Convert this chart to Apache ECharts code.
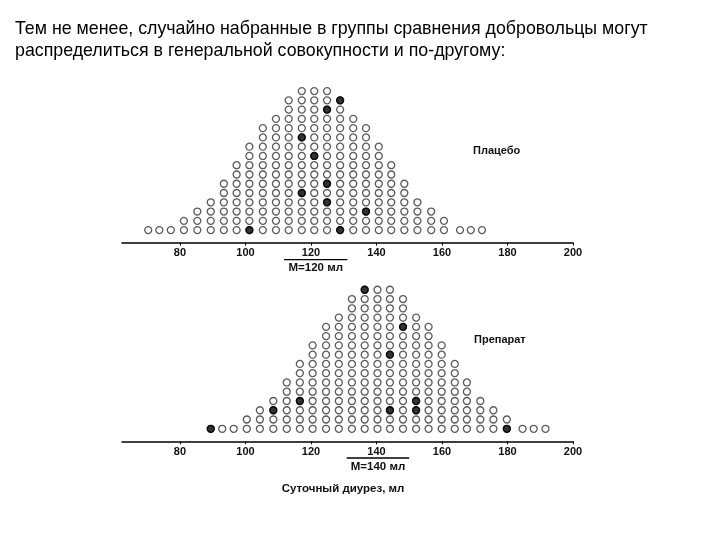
<!DOCTYPE html>
<html>
<head>
<meta charset="utf-8">
<script src="https://cdn.jsdelivr.net/npm/echarts@6/dist/echarts.min.js"></script>
<style>
html,body{margin:0;padding:0;background:#fff;}
#c{width:720px;height:540px;}
</style>
</head>
<body>
<div id="c"></div>
<script>
// ---- data ----
const titleLines = [
  "Тем не менее, случайно набранные в группы сравнения добровольцы могут",
  "распределиться в генеральной совокупности и по-другому:"
];
const tickValues = [80, 100, 120, 140, 160, 180, 200];

// Placebo: column positions (ml) and number of volunteers stacked in each column
const placeboX = [70.3, 73.7, 77.2, 81.2, 85.3, 89.4, 93.4, 97.3, 101.2, 105.3, 109.3, 113.2, 117.2, 121.0,
                  124.9, 128.9, 132.9, 136.8, 140.7, 144.5, 148.5, 152.5, 156.7, 160.6, 165.5, 168.8, 172.2];
const placeboCounts = [1, 1, 1, 2, 3, 4, 6, 8, 10, 12, 13, 15, 16, 16, 16, 15, 13, 12, 10, 8, 6, 4, 3, 2, 1, 1, 1];
// sampled volunteers: [column position, row]
const placeboSample = [[101.2, 0], [117.2, 4], [117.2, 10], [121.0, 8], [124.9, 3], [124.9, 5], [124.9, 13],
                       [128.9, 0], [128.9, 14], [136.8, 2]];
const placeboMeanLabel = "M=120 мл";
const placeboMeanBar = [111.8, 131.1];
const placeboName = "Плацебо";

// Drug
const drugX = [89.4, 92.9, 96.4, 100.4, 104.4, 108.5, 112.6, 116.6, 120.5, 124.6, 128.5, 132.5, 136.4, 140.3,
               144.1, 148.1, 152.1, 155.9, 159.9, 163.9, 167.6, 171.7, 175.7, 179.8, 184.6, 188.0, 191.6];
const drugCounts = [1, 1, 1, 2, 3, 4, 6, 8, 10, 12, 13, 15, 16, 16, 16, 15, 13, 12, 10, 8, 6, 4, 3, 2, 1, 1, 1];
const drugSample = [[89.4, 0], [108.5, 2], [116.6, 3], [136.4, 15], [144.1, 2], [144.1, 8], [148.1, 11],
                    [152.1, 2], [152.1, 3], [179.8, 0]];
const drugMeanLabel = "M=140 мл";
const drugMeanBar = [130.9, 150.0];
const drugName = "Препарат";

const xCaption = "Суточный диурез, мл";

// ---- build ----
function buildPoints(xs, counts) {
  const pts = [];
  xs.forEach((x, i) => { for (let r = 0; r < counts[i]; r++) pts.push([x, r]); });
  return pts;
}
const FONT = "'Liberation Sans', Arial, sans-serif";
const X_MIN = 62.3, X_MAX = 200;
const Y_MIN = -1.35, Y_MAX = 16;

function xAxis(gridIndex) {
  return {
    type: 'value', gridIndex, min: X_MIN, max: X_MAX,
    axisLine: { show: true, onZero: false, lineStyle: { color: '#000', width: 1.5 } },
    axisTick: { show: true, customValues: tickValues, length: 3, lineStyle: { color: '#000', width: 1 } },
    axisLabel: { customValues: tickValues, fontFamily: FONT, fontWeight: 'bold', fontSize: 11, color: '#111', margin: 5 },
    splitLine: { show: false }
  };
}
function yAxis(gridIndex) {
  return { type: 'value', gridIndex, min: Y_MIN, max: Y_MAX, show: false, splitLine: { show: false } };
}
const openStyle = { color: '#fff', borderColor: '#333', borderWidth: 1.3 };
const fillStyle = { color: '#000', borderColor: '#000', borderWidth: 1.3 };

const chart = echarts.init(document.getElementById('c'), null, { renderer: 'canvas' });
chart.setOption({
  animation: false,
  backgroundColor: '#fff',
  grid: [
    { left: 122, width: 451, top: 81.8, height: 160.8 },
    { left: 122, width: 451, top: 280.5, height: 160.8 }
  ],
  xAxis: [xAxis(0), xAxis(1)],
  yAxis: [yAxis(0), yAxis(1)],
  series: [
    { type: 'scatter', xAxisIndex: 0, yAxisIndex: 0, symbol: 'circle', symbolSize: 7, silent: true,
      itemStyle: openStyle, data: buildPoints(placeboX, placeboCounts) },
    { type: 'scatter', xAxisIndex: 0, yAxisIndex: 0, symbol: 'circle', symbolSize: 7, silent: true,
      itemStyle: fillStyle, data: placeboSample, z: 3 },
    { type: 'scatter', xAxisIndex: 1, yAxisIndex: 1, symbol: 'circle', symbolSize: 7, silent: true,
      itemStyle: openStyle, data: buildPoints(drugX, drugCounts) },
    { type: 'scatter', xAxisIndex: 1, yAxisIndex: 1, symbol: 'circle', symbolSize: 7, silent: true,
      itemStyle: fillStyle, data: drugSample, z: 3 }
  ]
});

function px(axisIndex, v) { return chart.convertToPixel({ xAxisIndex: axisIndex }, v); }
function meanGraphics(axisIndex, bar, label, yLine) {
  const x1 = px(axisIndex, bar[0]), x2 = px(axisIndex, bar[1]);
  return [
    { type: 'line', shape: { x1, y1: yLine, x2, y2: yLine }, style: { stroke: '#000', lineWidth: 1.3 } },
    { type: 'text', x: (x1 + x2) / 2, y: yLine + 8.5,
      style: { text: label, font: "bold 11.5px " + FONT, fill: '#111', textAlign: 'center', textVerticalAlign: 'middle' } }
  ];
}
const graphics = [
  { type: 'text', x: 15, y: 29.5, style: { text: titleLines[0], font: "17.8px " + FONT, fill: '#000', textVerticalAlign: 'middle' } },
  { type: 'text', x: 15, y: 51, style: { text: titleLines[1], font: "17.8px " + FONT, fill: '#000', textVerticalAlign: 'middle' } },
  { type: 'text', x: 473, y: 151, style: { text: placeboName, font: "bold 11px " + FONT, fill: '#111', textVerticalAlign: 'middle' } },
  { type: 'text', x: 474, y: 340, style: { text: drugName, font: "bold 11px " + FONT, fill: '#111', textVerticalAlign: 'middle' } },
  { type: 'text', x: 343, y: 489, style: { text: xCaption, font: "bold 11.5px " + FONT, fill: '#111', textAlign: 'center', textVerticalAlign: 'middle' } }
].concat(meanGraphics(0, placeboMeanBar, placeboMeanLabel, 259.7))
 .concat(meanGraphics(1, drugMeanBar, drugMeanLabel, 458));
chart.setOption({ graphic: graphics });
</script>
</body>
</html>
